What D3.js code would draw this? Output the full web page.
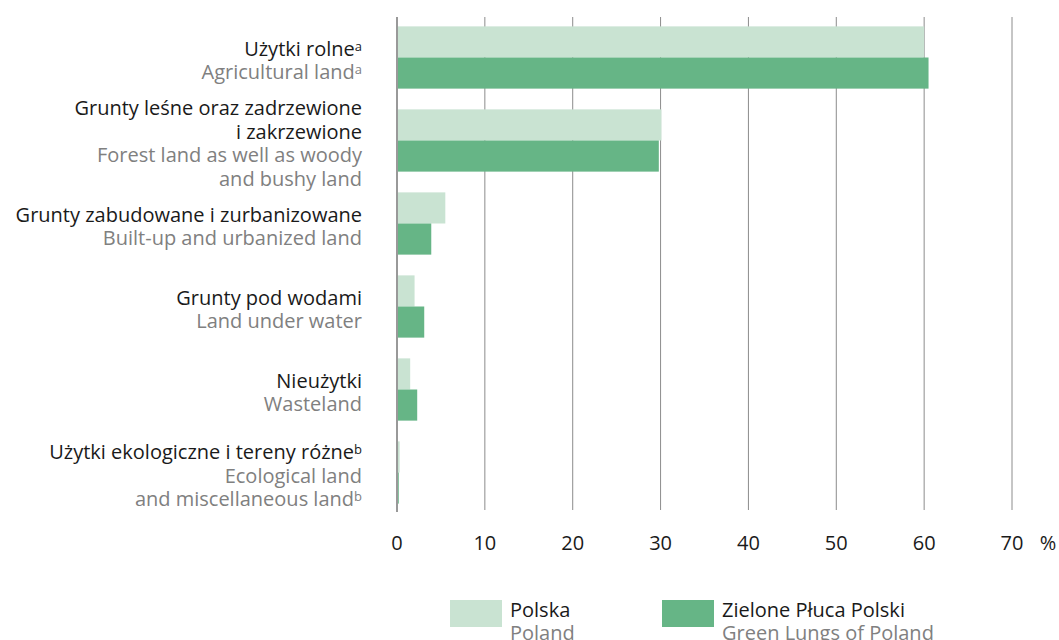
<!DOCTYPE html>
<html>
<head>
<meta charset="utf-8">
<script src="https://cdn.jsdelivr.net/npm/d3@7"></script>
<style>
  body { margin: 0; background: #fff; }
  text { font-family: "Open Sans", Roboto, sans-serif; }
  .tick-label { font-family: "Liberation Sans Narrow", "Open Sans", sans-serif; }
</style>
</head>
<body>
<div id="chart"></div>
<script>
// categories: polish lines, english lines, superscript marks
var categoriesPl = [
  ["Użytki rolne"],
  ["Grunty leśne oraz zadrzewione", "i zakrzewione"],
  ["Grunty zabudowane i zurbanizowane"],
  ["Grunty pod wodami"],
  ["Nieużytki"],
  ["Użytki ekologiczne i tereny różne"]
];
var categoriesEn = [
  ["Agricultural land"],
  ["Forest land as well as woody", "and bushy land"],
  ["Built-up and urbanized land"],
  ["Land under water"],
  ["Wasteland"],
  ["Ecological land", "and miscellaneous land"]
];
var footnotes = ["a", "", "", "", "", "b"];

// series values (%)
var polska = [60.0, 30.1, 5.5, 2.0, 1.5, 0.3];
var zielonePluca = [60.5, 29.8, 3.9, 3.1, 2.3, 0.2];

var seriesNames = ["Polska", "Zielone Płuca Polski"];
var seriesNamesEn = ["Poland", "Green Lungs of Poland"];
var colors = ["#c9e3d2", "#66b586"];

var tickValues = [0, 10, 20, 30, 40, 50, 60, 70];

var width = 1059, height = 640;

var svg = d3.select("#chart")
  .append("svg")
  .attr("width", width)
  .attr("height", height);

var x = d3.scaleLinear()
  .domain([0, 70])
  .range([397, 1012]);

var y = d3.scaleBand()
  .domain(d3.range(categoriesPl.length))
  .range([16, 514])
  .paddingInner(0.25)
  .paddingOuter(0.125);

var sub = d3.scaleBand()
  .domain([0, 1])
  .range([0, y.bandwidth()]);

// gridlines
svg.append("g")
  .selectAll("line")
  .data(tickValues.slice(1))
  .enter()
  .append("line")
  .attr("x1", d => x(d))
  .attr("x2", d => x(d))
  .attr("y1", 17)
  .attr("y2", 510)
  .attr("stroke", "#8c8c8c")
  .attr("stroke-width", 1);

// bars
var series = [polska, zielonePluca];
series.forEach((vals, s) => {
  svg.append("g")
    .selectAll("rect")
    .data(vals)
    .enter()
    .append("rect")
    .attr("x", x(0))
    .attr("y", (d, i) => y(i) + sub(s))
    .attr("width", d => x(d) - x(0))
    .attr("height", sub.bandwidth())
    .attr("fill", colors[s]);
});

// zero axis line
svg.append("line")
  .attr("x1", x(0))
  .attr("x2", x(0))
  .attr("y1", 17)
  .attr("y2", 512)
  .attr("stroke", "#999")
  .attr("stroke-width", 2);

// category labels
var lineH = 23.5;
var labels = svg.append("g")
  .selectAll("text")
  .data(categoriesPl)
  .enter()
  .append("text")
  .attr("text-anchor", "end")
  .style("font-size", "20px");

labels.each(function(pl, i) {
  var en = categoriesEn[i];
  var n = pl.length + en.length;
  var top = y(i) + y.bandwidth() / 2 + 3 - (n - 1) * lineH / 2;
  var t = d3.select(this);
  var lines = pl.map(l => ({ text: l, color: "#1a1a1a" }))
    .concat(en.map(l => ({ text: l, color: "#808080" })));
  lines.forEach((ln, k) => {
    var isLastPl = k == pl.length - 1;
    var isLastEn = k == n - 1;
    t.append("tspan")
      .attr("x", 362)
      .attr("y", top + k * lineH)
      .attr("dy", "0.35em")
      .attr("fill", ln.color)
      .text(ln.text);
    if (footnotes[i] && (isLastPl || isLastEn)) {
      t.append("tspan")
        .attr("fill", ln.color)
        .style("font-size", "13px")
        .attr("baseline-shift", "40%")
        .text(footnotes[i]);
    }
  });
});

// x axis tick labels
svg.append("g")
  .selectAll("text")
  .data(tickValues)
  .enter()
  .append("text")
  .attr("class", "tick-label")
  .attr("x", d => x(d))
  .attr("y", 543)
  .attr("dy", "0.35em")
  .attr("text-anchor", "middle")
  .attr("fill", "#1a1a1a")
  .style("font-size", "20px")
  .text(d => d);

svg.append("text")
  .attr("class", "tick-label")
  .attr("x", 1048)
  .attr("y", 543)
  .attr("dy", "0.35em")
  .attr("text-anchor", "middle")
  .attr("fill", "#1a1a1a")
  .style("font-size", "20px")
  .text("%");

// legend
var legendX = [450, 662];
var legend = svg.append("g")
  .selectAll("g")
  .data(seriesNames)
  .enter()
  .append("g")
  .attr("transform", (d, i) => "translate(" + legendX[i] + ",600)");

legend.append("rect")
  .attr("width", 52)
  .attr("height", 27)
  .attr("fill", (d, i) => colors[i]);

legend.append("text")
  .attr("x", 60)
  .attr("y", 10)
  .attr("dy", "0.35em")
  .attr("fill", "#1a1a1a")
  .style("font-size", "20px")
  .text(d => d);

legend.append("text")
  .attr("x", 60)
  .attr("y", 33)
  .attr("dy", "0.35em")
  .attr("fill", "#808080")
  .style("font-size", "20px")
  .text((d, i) => seriesNamesEn[i]);
</script>
</body>
</html>
